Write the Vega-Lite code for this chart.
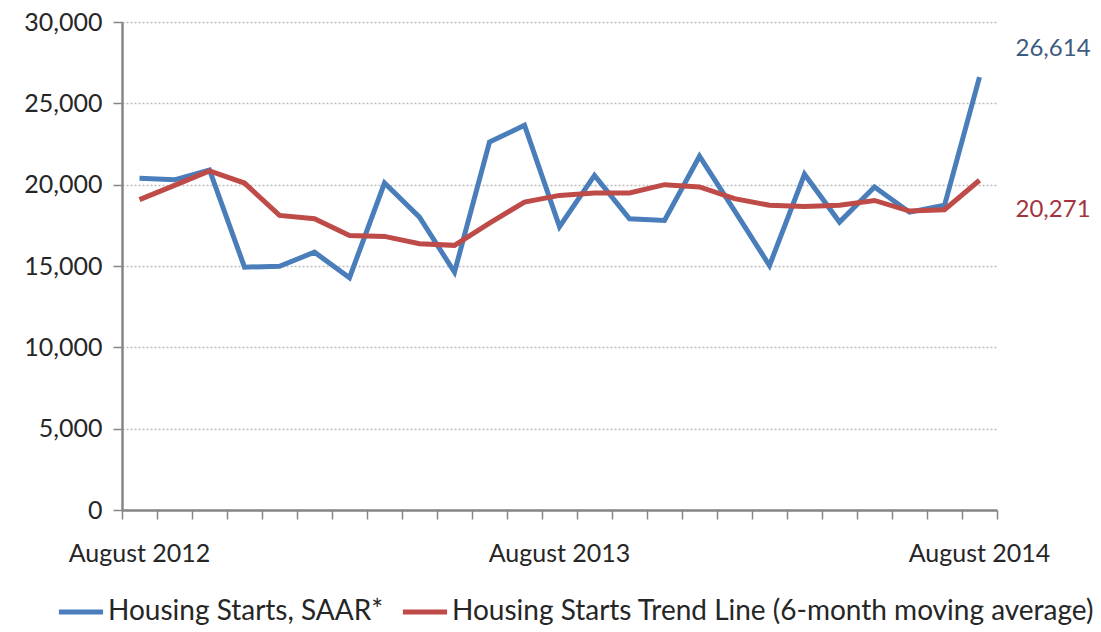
{
  "$schema": "https://vega.github.io/schema/vega-lite/v6.json",
  "width": 875,
  "height": 488,
  "autosize": "none",
  "padding": {"left": 122, "top": 22, "right": 104, "bottom": 122},
  "background": "white",
  "config": {
    "font": "Lato",
    "view": {"stroke": null},
    "axis": {"labelColor": "#262626", "domainColor": "#868686", "tickColor": "#868686", "domainWidth": 2.5, "tickWidth": 1.5}
  },
  "data": {
    "values": [
      {"month": "August 2012", "series": "Housing Starts, SAAR*", "value": 20400},
      {"month": "September 2012", "series": "Housing Starts, SAAR*", "value": 20300},
      {"month": "October 2012", "series": "Housing Starts, SAAR*", "value": 20900},
      {"month": "November 2012", "series": "Housing Starts, SAAR*", "value": 14930},
      {"month": "December 2012", "series": "Housing Starts, SAAR*", "value": 14980},
      {"month": "January 2013", "series": "Housing Starts, SAAR*", "value": 15850},
      {"month": "February 2013", "series": "Housing Starts, SAAR*", "value": 14280},
      {"month": "March 2013", "series": "Housing Starts, SAAR*", "value": 20100},
      {"month": "April 2013", "series": "Housing Starts, SAAR*", "value": 18000},
      {"month": "May 2013", "series": "Housing Starts, SAAR*", "value": 14620},
      {"month": "June 2013", "series": "Housing Starts, SAAR*", "value": 22620},
      {"month": "July 2013", "series": "Housing Starts, SAAR*", "value": 23650},
      {"month": "August 2013", "series": "Housing Starts, SAAR*", "value": 17420},
      {"month": "September 2013", "series": "Housing Starts, SAAR*", "value": 20570},
      {"month": "October 2013", "series": "Housing Starts, SAAR*", "value": 17900},
      {"month": "November 2013", "series": "Housing Starts, SAAR*", "value": 17800},
      {"month": "December 2013", "series": "Housing Starts, SAAR*", "value": 21750},
      {"month": "January 2014", "series": "Housing Starts, SAAR*", "value": 18400},
      {"month": "February 2014", "series": "Housing Starts, SAAR*", "value": 15030},
      {"month": "March 2014", "series": "Housing Starts, SAAR*", "value": 20640},
      {"month": "April 2014", "series": "Housing Starts, SAAR*", "value": 17700},
      {"month": "May 2014", "series": "Housing Starts, SAAR*", "value": 19860},
      {"month": "June 2014", "series": "Housing Starts, SAAR*", "value": 18310},
      {"month": "July 2014", "series": "Housing Starts, SAAR*", "value": 18730},
      {"month": "August 2014", "series": "Housing Starts, SAAR*", "value": 26614},
      {"month": "August 2012", "series": "Housing Starts Trend Line (6-month moving average)", "value": 19080},
      {"month": "September 2012", "series": "Housing Starts Trend Line (6-month moving average)", "value": 19960},
      {"month": "October 2012", "series": "Housing Starts Trend Line (6-month moving average)", "value": 20840},
      {"month": "November 2012", "series": "Housing Starts Trend Line (6-month moving average)", "value": 20100},
      {"month": "December 2012", "series": "Housing Starts Trend Line (6-month moving average)", "value": 18110},
      {"month": "January 2013", "series": "Housing Starts Trend Line (6-month moving average)", "value": 17910},
      {"month": "February 2013", "series": "Housing Starts Trend Line (6-month moving average)", "value": 16880},
      {"month": "March 2013", "series": "Housing Starts Trend Line (6-month moving average)", "value": 16820},
      {"month": "April 2013", "series": "Housing Starts Trend Line (6-month moving average)", "value": 16370},
      {"month": "May 2013", "series": "Housing Starts Trend Line (6-month moving average)", "value": 16270},
      {"month": "June 2013", "series": "Housing Starts Trend Line (6-month moving average)", "value": 17640},
      {"month": "July 2013", "series": "Housing Starts Trend Line (6-month moving average)", "value": 18930},
      {"month": "August 2013", "series": "Housing Starts Trend Line (6-month moving average)", "value": 19340},
      {"month": "September 2013", "series": "Housing Starts Trend Line (6-month moving average)", "value": 19490},
      {"month": "October 2013", "series": "Housing Starts Trend Line (6-month moving average)", "value": 19490},
      {"month": "November 2013", "series": "Housing Starts Trend Line (6-month moving average)", "value": 20000},
      {"month": "December 2013", "series": "Housing Starts Trend Line (6-month moving average)", "value": 19860},
      {"month": "January 2014", "series": "Housing Starts Trend Line (6-month moving average)", "value": 19140},
      {"month": "February 2014", "series": "Housing Starts Trend Line (6-month moving average)", "value": 18730},
      {"month": "March 2014", "series": "Housing Starts Trend Line (6-month moving average)", "value": 18660},
      {"month": "April 2014", "series": "Housing Starts Trend Line (6-month moving average)", "value": 18730},
      {"month": "May 2014", "series": "Housing Starts Trend Line (6-month moving average)", "value": 19030},
      {"month": "June 2014", "series": "Housing Starts Trend Line (6-month moving average)", "value": 18380},
      {"month": "July 2014", "series": "Housing Starts Trend Line (6-month moving average)", "value": 18460},
      {"month": "August 2014", "series": "Housing Starts Trend Line (6-month moving average)", "value": 20271}
    ]
  },
  "resolve": {"axis": {"x": "independent"}},
  "layer": [
    {
      "mark": {"type": "line", "strokeWidth": 5},
      "encoding": {
        "x": {
          "field": "month", "type": "ordinal", "sort": null,
          "scale": {"type": "band", "paddingInner": 0, "paddingOuter": 0},
          "axis": {"orient": "bottom", "title": null, "labelAngle": 0, "grid": false, "ticks": false, "domain": false, "labelPadding": 31, "labelFontSize": 25,
            "labelExpr": "slice(datum.value, 0, 6) == 'August' ? datum.value : ''"}
        },
        "y": {
          "field": "value", "type": "quantitative",
          "scale": {"domain": [0, 30000], "nice": false},
          "axis": {"title": null, "values": [0, 5000, 10000, 15000, 20000, 25000, 30000], "format": ",d", "tickSize": 9, "labelPadding": 11, "labelFontSize": 25,
            "grid": true, "gridColor": "#BBBBBB", "gridDash": [2, 2], "gridWidth": 1.5}
        },
        "color": {
          "field": "series", "type": "nominal", "sort": null,
          "scale": {"domain": ["Housing Starts, SAAR*", "Housing Starts Trend Line (6-month moving average)"], "range": ["#4A7EBB", "#BE4B48"]},
          "legend": {"title": null, "orient": "none", "legendX": -66, "legendY": 565, "direction": "horizontal", "symbolType": "stroke", "symbolStrokeWidth": 5, "symbolSize": 1950,
            "labelFontSize": 28, "labelColor": "#262626", "labelLimit": 1000, "columnPadding": 8, "symbolOffset": 0, "labelOffset": 2}
        }
      }
    },
    {
      "transform": [{"filter": "datum.month == 'August 2014' && datum.series == 'Housing Starts, SAAR*'"}],
      "mark": {"type": "text", "align": "left", "baseline": "middle", "dx": 36, "dy": -28, "fontSize": 24, "color": "#3D5A80"},
      "encoding": {
        "x": {"field": "month", "type": "ordinal", "sort": null,
          "axis": {"orient": "bottom", "title": null, "labels": false, "grid": false, "bandPosition": 0, "tickSize": 9, "domain": true}},
        "y": {"field": "value", "type": "quantitative"},
        "text": {"field": "value", "type": "quantitative", "format": ","}
      }
    },
    {
      "transform": [{"filter": "datum.month == 'August 2014' && datum.series != 'Housing Starts, SAAR*'"}],
      "mark": {"type": "text", "align": "left", "baseline": "middle", "dx": 36, "dy": 30, "fontSize": 24, "color": "#A3343E"},
      "encoding": {
        "x": {"field": "month", "type": "ordinal", "sort": null,
          "axis": {"orient": "bottom", "title": null, "labels": false, "grid": false, "bandPosition": 1, "values": ["August 2014"], "tickSize": 9, "domain": false}},
        "y": {"field": "value", "type": "quantitative"},
        "text": {"field": "value", "type": "quantitative", "format": ","}
      }
    }
  ]
}
